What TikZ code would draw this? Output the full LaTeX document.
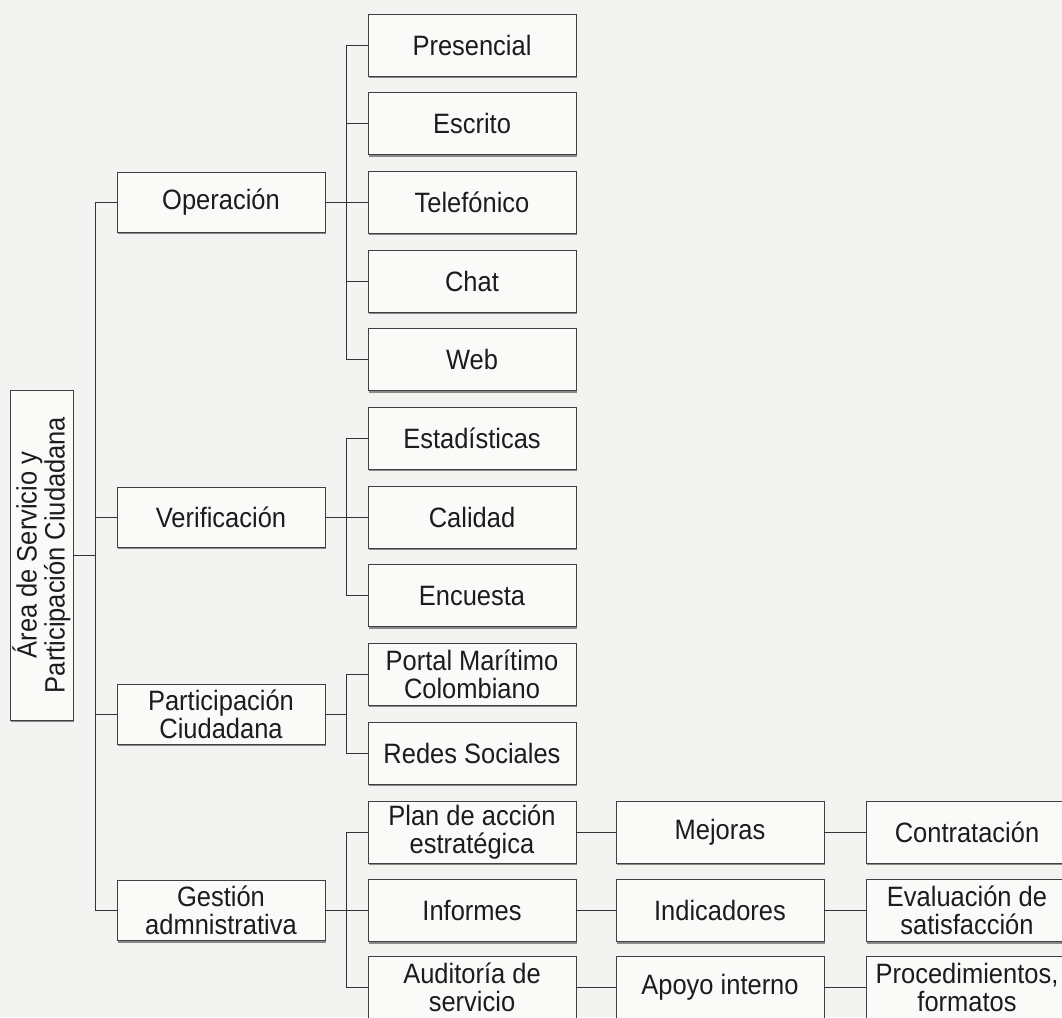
\documentclass[tikz,border=0pt]{standalone}
\usepackage{fontspec}
\setmainfont[FakeStretch=0.91]{Liberation Sans}
\usetikzlibrary{shadows,calc}
\definecolor{paper}{HTML}{F3F3F1}
\definecolor{ink}{HTML}{1C1C1C}
\begin{document}
\begin{tikzpicture}[x=1pt,y=-1pt,
  box/.style={draw=black!75, line width=0.9pt, fill=white!55!paper, text=ink, align=center,
    inner sep=0pt, font=\fontsize{28}{28}\selectfont,
    drop shadow={shadow xshift=1.3pt, shadow yshift=-1.8pt, fill=black!60, opacity=0.75}},
  lone/.style={box, minimum width=208pt, minimum height=60pt},
  ltwo/.style={box, minimum width=208pt, minimum height=62pt},
  lthree/.style={box, minimum width=202pt, minimum height=62pt},
  conn/.style={draw=black!80, line width=1pt}]
\useasboundingbox (0,0) rectangle (1062,1017);
\clip (0,0) rectangle (1062,1017);
\fill[paper] (0,0) rectangle (1062,1017);

% root
\node[box, rotate=90, minimum width=330pt, minimum height=63pt] (root) at (41.5,555)
  {Área de Servicio y\\Participación Ciudadana};

% level 1
\node[lone] (op)  at (221,202.4) {Operación};
\node[lone] (ver) at (221,517.2) {Verificación};
\node[lone] (par) at (221,714)   {Participación\\Ciudadana};
\node[lone] (ges) at (221,910.7) {Gestión\\admnistrativa};

% level 2
\node[ltwo] (pre) at (472,45)    {Presencial};
\node[ltwo] (esc) at (472,123.7) {Escrito};
\node[ltwo] (tel) at (472,202.4) {Telefónico};
\node[ltwo] (cha) at (472,281.1) {Chat};
\node[ltwo] (web) at (472,359.8) {Web};
\node[ltwo] (est) at (472,438.5) {Estadísticas};
\node[ltwo] (cal) at (472,517.2) {Calidad};
\node[ltwo] (enc) at (472,595.9) {Encuesta};
\node[ltwo] (por) at (472,674.6) {Portal Marítimo\\Colombiano};
\node[ltwo] (red) at (472,753.3) {Redes Sociales};
\node[ltwo] (pla) at (472,832)   {Plan de acción\\estratégica};
\node[ltwo] (inf) at (472,910.7) {Informes};
\node[ltwo] (aud) at (472,987) {Auditoría de\\servicio};

% level 3
\node[ltwo] (mej) at (720,832)   {Mejoras};
\node[ltwo] (ind) at (720,910.7) {Indicadores};
\node[ltwo] (apo) at (720,987) {Apoyo interno};
\node[lthree] (con) at (967,832)   {Contratación};
\node[lthree] (eva) at (967,910.7) {Evaluación de\\satisfacción};
\node[lthree] (pro) at (967,987) {Procedimientos,\\formatos};

% connectors
\coordinate (trk) at (95,555);
\coordinate (br) at (346,0);
\draw[conn] (root.south) -- (trk);
\draw[conn] (op.west) -- (op.west -| trk) -- (ges.west -| trk) -- (ges.west);
\draw[conn] (ver.west) -- (ver.west -| trk);
\draw[conn] (par.west) -- (par.west -| trk);

\draw[conn] (op.east) -- (op.east -| br);
\draw[conn] (pre.west) -- (pre.west -| br) -- (web.west -| br) -- (web.west);
\foreach \n in {esc,tel,cha} \draw[conn] (\n.west) -- (\n.west -| br);

\draw[conn] (ver.east) -- (ver.east -| br);
\draw[conn] (est.west) -- (est.west -| br) -- (enc.west -| br) -- (enc.west);
\draw[conn] (cal.west) -- (cal.west -| br);

\draw[conn] (par.east) -- (par.east -| br);
\draw[conn] (por.west) -- (por.west -| br) -- (red.west -| br) -- (red.west);

\draw[conn] (ges.east) -- (ges.east -| br);
\draw[conn] (pla.west) -- (pla.west -| br) -- (aud.west -| br) -- (aud.west);
\draw[conn] (inf.west) -- (inf.west -| br);

\draw[conn] (pla) -- (mej);
\draw[conn] (inf) -- (ind);
\draw[conn] (aud) -- (apo);
\draw[conn] (mej) -- (con);
\draw[conn] (ind) -- (eva);
\draw[conn] (apo) -- (pro);
\end{tikzpicture}
\end{document}
